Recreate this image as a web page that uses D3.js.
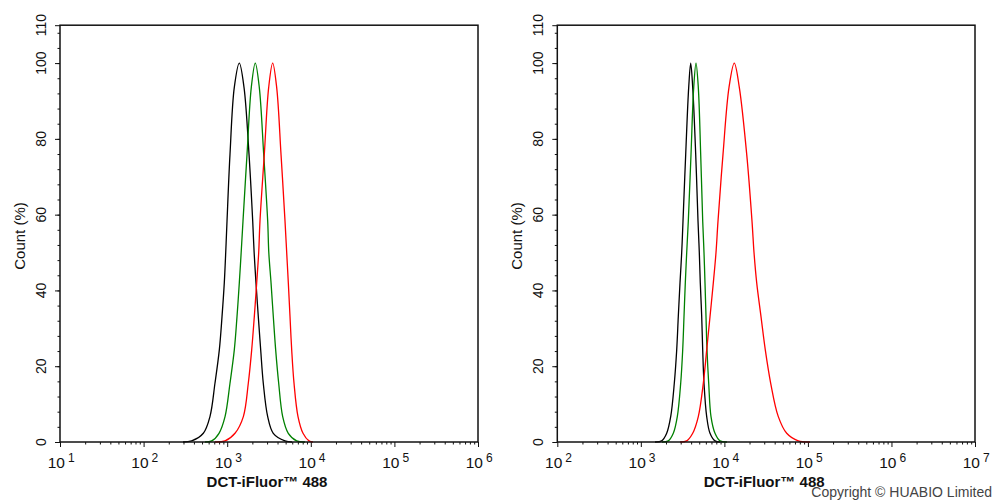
<!DOCTYPE html>
<html>
<head>
<meta charset="utf-8">
<script src="https://cdn.jsdelivr.net/npm/d3@7"></script>
<style>
  body { margin: 0; background: #fff; }
  svg { display: block; font-family: "Liberation Sans", Arial, sans-serif; }
</style>
</head>
<body>
<svg id="chart" width="994" height="501"></svg>
<script>
// count levels (%) shared by every histogram trace, walked left foot -> peak -> right foot
var levels = [0, 0.3, 2.3, 6.7, 15.5, 24.3, 33.1, 42, 50, 58.3, 75.9, 93.6, 100,
              93.6, 75.9, 58.3, 50, 42, 33.1, 24.3, 15.5, 6.7, 2.3, 0.3, 0];

// left panel intensities
var leftBlack = [296, 376, 518, 622, 714, 805, 867, 923, 960, 995, 1080, 1216, 1396,
                 1589, 1824, 2019, 2100, 2210, 2355, 2516, 2702, 3050, 3557, 4910, 5960];
var leftGreen = [542, 653, 798, 942, 1080, 1216, 1310, 1396, 1469, 1545, 1726, 1942, 2167,
                 2420, 2733, 3050, 3145, 3345, 3560, 3800, 4130, 4610, 5380, 6780, 8530];
var leftRed = [714, 942, 1240, 1560, 1788, 1963, 2110, 2253, 2381, 2467, 2779, 3135, 3499,
               3906, 4403, 4915, 5148, 5385, 5640, 5910, 6300, 7030, 8070, 9510, 10620];

// right panel intensities
var rightBlack = [1477, 1777, 2039, 2278, 2515, 2687, 2808, 2943, 3084, 3197, 3443, 3741, 3953,
                  4177, 4537, 4834, 5010, 5149, 5352, 5502, 5702, 6143, 6729, 7722, 8863];
var rightGreen = [1792, 2132, 2447, 2732, 3000, 3170, 3286, 3406, 3540, 3700, 3986, 4295, 4575,
                  4873, 5205, 5502, 5702, 5861, 6026, 6194, 6492, 6916, 7722, 8863, 10750];
var rightRed = [2943, 3540, 4177, 4873, 5594, 6143, 6729, 7371, 7938, 8388, 9627, 11360, 13140,
                15090, 18510, 21410, 22630, 24380, 27440, 30890, 35850, 44210, 55720, 76700, 105900];

var leftExps = [1, 2, 3, 4, 5, 6];
var rightExps = [2, 3, 4, 5, 6, 7];
var yMajor = [0, 20, 40, 60, 80, 100, 110];
var xTitle = "DCT-iFluor\u2122 488";
var yTitle = "Count  (%)";

var svg = d3.select("#chart");

var panels = [
  {x0: 60, x1: 478, exps: leftExps, traces: [leftBlack, leftGreen, leftRed]},
  {x0: 557.3, x1: 975, exps: rightExps, traces: [rightBlack, rightGreen, rightRed]}
];
var colors = ["#000000", "#008000", "#ff0000"];

var yTop = 25.2, yBot = 442;
var y = d3.scaleLinear().domain([0, 110]).range([yBot, yTop]);

panels.forEach(function(p) {
  var lo = Math.pow(10, p.exps[0]), hi = Math.pow(10, p.exps[p.exps.length - 1]);
  var x = d3.scaleLog().domain([lo, hi]).range([p.x0, p.x1]);
  var g = svg.append("g");

  var decades = p.exps.map(function(e) { return Math.pow(10, e); });
  var minors = [];
  decades.slice(0, -1).forEach(function(d) {
    for (var k = 2; k <= 9; k++) minors.push(d * k);
  });
  var yMinor = d3.range(0, 110, 4);

  // ticks
  var xa = g.append("g").attr("transform", "translate(0," + yBot + ")")
    .call(d3.axisBottom(x).tickValues(decades).tickSize(5).tickFormat(""));
  var xm = g.append("g").attr("transform", "translate(0," + yBot + ")")
    .call(d3.axisBottom(x).tickValues(minors).tickSize(2.5).tickFormat(""));
  var ya = g.append("g").attr("transform", "translate(" + p.x0 + ",0)")
    .call(d3.axisLeft(y).tickValues(yMajor).tickSize(5).tickFormat(""));
  var ym = g.append("g").attr("transform", "translate(" + p.x0 + ",0)")
    .call(d3.axisLeft(y).tickValues(yMinor).tickSize(2.5).tickFormat(""));
  [xa, xm, ya, ym].forEach(function(a) {
    a.select(".domain").remove();
    a.selectAll("line").attr("stroke", "#111").attr("stroke-width", 1);
  });

  // traces
  var line = d3.line()
    .x(function(d) { return x(d[0]); })
    .y(function(d) { return y(d[1]); })
    .curve(d3.curveCatmullRom.alpha(0.5));
  p.traces.forEach(function(tr, i) {
    var pts = tr.map(function(v, j) { return [v, levels[j]]; });
    g.append("path").datum(pts)
      .attr("d", line)
      .attr("fill", "none")
      .attr("stroke", colors[i])
      .attr("stroke-width", 1.3);
  });

  // frame
  g.append("rect")
    .attr("x", p.x0).attr("y", yTop)
    .attr("width", p.x1 - p.x0).attr("height", yBot - yTop)
    .attr("fill", "none").attr("stroke", "#111").attr("stroke-width", 1.5);

  // y tick labels
  g.selectAll(".ylab").data(yMajor).enter().append("text")
    .attr("transform", function(d) { return "translate(" + (p.x0 - 14) + "," + y(d) + ") rotate(-90)"; })
    .attr("text-anchor", "middle")
    .attr("font-size", 14)
    .attr("fill", "#111")
    .text(function(d) { return d; });

  // x tick labels 10^n
  p.exps.forEach(function(e) {
    var tx = x(Math.pow(10, e));
    g.append("text").attr("x", tx + 5).attr("y", 468)
      .attr("text-anchor", "end").attr("font-size", 15.5).attr("fill", "#111").text("10");
    g.append("text").attr("x", tx + 8).attr("y", 462)
      .attr("text-anchor", "start").attr("font-size", 12).attr("fill", "#111").text(e);
  });

  // titles
  g.append("text")
    .attr("x", (p.x0 + p.x1) / 2 - 2).attr("y", 487)
    .attr("text-anchor", "middle").attr("font-size", 15).attr("font-weight", "bold")
    .attr("fill", "#111").text(xTitle);
  g.append("text")
    .attr("transform", "translate(" + (p.x0 - 35) + "," + 236 + ") rotate(-90)")
    .attr("text-anchor", "middle").attr("font-size", 15)
    .attr("fill", "#111").text(yTitle);
});

svg.append("text")
  .attr("x", 992).attr("y", 497)
  .attr("text-anchor", "end").attr("font-size", 14)
  .attr("fill", "#444").text("Copyright \u00a9 HUABIO Limited");
</script>
</body>
</html>
